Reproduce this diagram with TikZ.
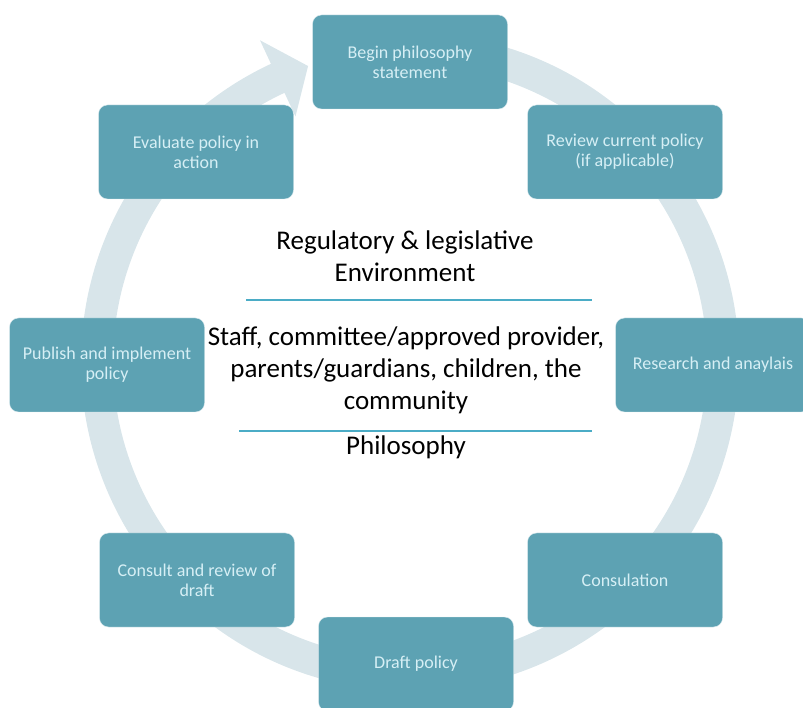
\documentclass[tikz,border=0pt]{standalone}
\usepackage{fontspec}
\setmainfont{Carlito}
\usetikzlibrary{calc}

\definecolor{phasefill}{HTML}{5DA2B3}
\definecolor{phasetext}{HTML}{D6EFF5}
\definecolor{ringfill}{HTML}{D8E5EA}
\definecolor{rulecol}{HTML}{4BACC6}

\begin{document}
\begin{tikzpicture}[
            x = 1pt, y = 1pt, % one unit is one pixel of the page
            semithick % line style
        ]

        \tikzstyle{phase}=[
            draw = white!80!phasefill,
            thin,
            fill = phasefill,
            text = phasetext,
            rounded corners = 9pt,
            minimum width = 195pt,
            minimum height = 94pt,
            align = center,
            font = \fontsize{18}{20}\selectfont
        ]
        \tikzstyle{layer}=[
            align = center,
            inner sep = 0pt,
            font = \fontsize{27}{32}\selectfont
        ]

        \useasboundingbox (0,0) rectangle (803,707);

        % cycle ring with its arrow head
        \coordinate (c) at (410,345);
        \fill[ringfill] ($(c)+(80:329)$) arc[start angle=80, end angle=-245, radius=329]
            -- ($(c)+(-245:355)$) -- ($(c)+(-251:313)$) -- ($(c)+(-245:271)$)
            -- ($(c)+(-245:297)$) arc[start angle=-245, end angle=80, radius=297] -- cycle;

        \node[phase] (begin) at (410,645) {Begin philosophy\\statement};
        \node[phase] (review) at (625,555) {Review current policy\\(if applicable)};
        \node[phase] (research) at (713,342) {Research and anaylais};
        \node[phase] (consultation) at (625,127) {Consulation};
        \node[phase] (draft) at (416,43) {Draft policy};
        \node[phase] (consult) at (197,127) {Consult and review of\\draft};
        \node[phase] (publish) at (107,342) {Publish and implement\\policy};
        \node[phase] (evaluate) at (196,555) {Evaluate policy in\\action};

        \node[layer] (regulatory) at (405,451) {Regulatory \& legislative\\Environment};
        \node[layer] (people) at (406,337) {Staff, committee/approved provider,\\parents/guardians, children, the\\community};
        \node[layer] (philosophy) at (406,260) {Philosophy};

        \coordinate (r1a) at (246,407);
        \coordinate (r1b) at (592,407);
        \coordinate (r2a) at (239,276);
        \coordinate (r2b) at (592,276);
        \draw[rulecol, line width = 1.5pt] (r1a) -- (r1b);
        \draw[rulecol, line width = 1.5pt] (r2a) -- (r2b);

    \end{tikzpicture}
\end{document}
